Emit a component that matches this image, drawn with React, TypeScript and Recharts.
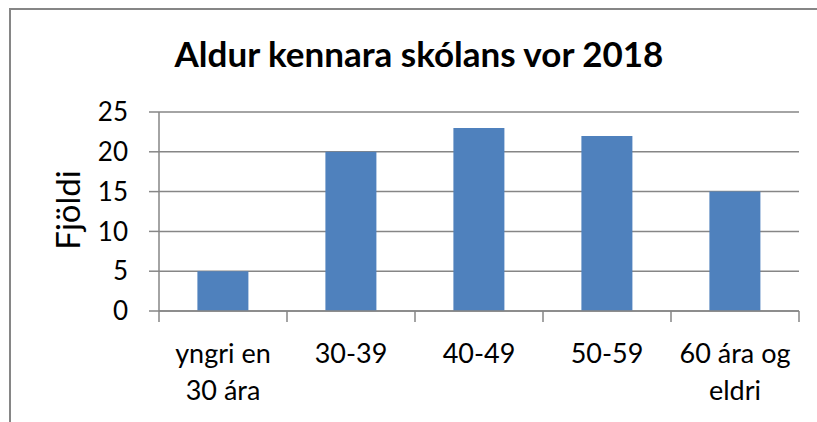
import * as React from 'react';
import { BarChart, Bar, XAxis, YAxis, CartesianGrid } from 'recharts';

const categories = ['yngri en 30 ára', '30-39', '40-49', '50-59', '60 ára og eldri'];
const labelLines = [['yngri en', '30 ára'], ['30-39'], ['40-49'], ['50-59'], ['60 ára og', 'eldri']];
const counts = [5, 20, 23, 22, 15];
const yTicks = [0, 5, 10, 15, 20, 25];

const data = categories.map((name, i) => ({ name, count: counts[i] }));

const GRAY = '#868686';
const FONT = 'Lato, "Open Sans", sans-serif';

// category label plus the tick marks that sit on the category boundaries
function CategoryTick({ x, y, index, payload }: { x?: number; y?: number; index?: number; payload?: { offset?: number } }) {
  const i = index ?? 0;
  const lines = labelLines[i] || [];
  const half = payload?.offset ?? 64;
  const cx = x ?? 0;
  const cy = y ?? 0;
  return (
    <g>
      <line x1={cx - half} x2={cx - half} y1={cy} y2={cy + 11} stroke={GRAY} strokeWidth={1.5} />
      {i === categories.length - 1 && (
        <line x1={cx + half} x2={cx + half} y1={cy} y2={cy + 11} stroke={GRAY} strokeWidth={1.5} />
      )}
      <text x={cx} y={cy} textAnchor="middle" fill="#000" fontSize={27} fontFamily={FONT}>
        {lines.map((l, k) => (
          <tspan key={k} x={cx} dy={k === 0 ? 52 : 37}>{l}</tspan>
        ))}
      </text>
    </g>
  );
}

export default function App() {
  return (
    <div style={{ position: 'absolute', left: 0, top: 0, width: 817, height: 422, background: '#fff', overflow: 'hidden' }}>
      {/* frame of the original chart, right and bottom edges are cut off */}
      <div style={{ position: 'absolute', left: 9, top: 8, width: 820, height: 430, borderLeft: `2px solid ${GRAY}`, borderTop: `2px solid ${GRAY}` }} />
      <div style={{ position: 'absolute', left: 0, width: 838, top: 33, textAlign: 'center', fontFamily: FONT, fontWeight: 700, fontSize: 35, lineHeight: '40px', color: '#000' }}>
        Aldur kennara skólans vor 2018
      </div>
      <div style={{ position: 'absolute', left: 67, top: 210, transform: 'translate(-50%, -50%) rotate(-90deg)', fontFamily: FONT, fontSize: 33, lineHeight: '36px', color: '#000', whiteSpace: 'nowrap' }}>
        Fjöldi
      </div>
      <div style={{ position: 'absolute', left: 0, top: 0 }}>
        <BarChart width={817} height={422} data={data} margin={{ top: 112, right: 18, bottom: 0, left: 99 }} barCategoryGap="30%">
          <CartesianGrid horizontal vertical={false} stroke={GRAY} strokeWidth={1.5} />
          <XAxis
            dataKey="name"
            height={111}
            axisLine={{ stroke: GRAY, strokeWidth: 1.5 }}
            tickLine={false}
            tickSize={0}
            tickMargin={0}
            interval={0}
            tick={<CategoryTick />}
          />
          <YAxis
            width={60}
            domain={[0, 25]}
            ticks={yTicks}
            tickSize={10}
            tickMargin={21}
            axisLine={{ stroke: GRAY, strokeWidth: 1.5 }}
            tickLine={{ stroke: GRAY, strokeWidth: 1.5 }}
            tick={{ fill: '#000', fontSize: 26, fontFamily: FONT }}
          />
          <Bar dataKey="count" fill="#4F81BD" isAnimationActive={false} />
        </BarChart>
      </div>
    </div>
  );
}
